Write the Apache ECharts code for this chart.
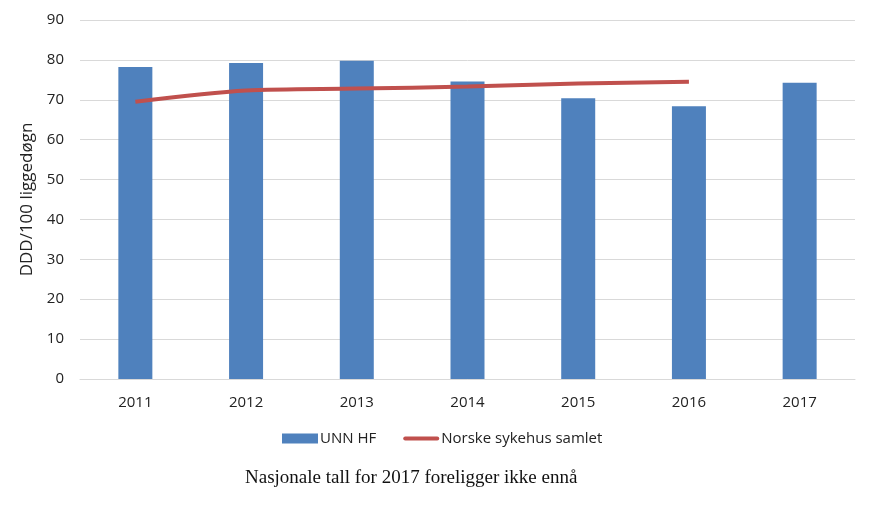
<!DOCTYPE html>
<html><head><meta charset="utf-8">
<script src="https://cdn.jsdelivr.net/npm/echarts@6/dist/echarts.min.js"></script>
<style>html,body{margin:0;padding:0;background:#fff}#c{width:892px;height:531px}</style>
</head><body><div id="c"></div>
<script>
const years = ['2011','2012','2013','2014','2015','2016','2017'];
const unnHF = [78.2, 79.2, 79.8, 74.6, 70.4, 68.4, 74.3];
const norske = [69.5, 72.3, 72.8, 73.3, 74.1, 74.5, null];
const yTicks = [0, 10, 20, 30, 40, 50, 60, 70, 80, 90];
const ff = 'Open Sans, Liberation Sans, sans-serif';
const chart = echarts.init(document.getElementById('c'));
chart.setOption({
  animation: false,
  grid: {left: 80, right: 37, top: 20, bottom: 152},
  xAxis: {
    type: 'category', data: years,
    axisLine: {lineStyle: {color: '#d9d9d9'}},
    axisTick: {show: false},
    axisLabel: {color: '#222', fontSize: 15, fontFamily: ff, margin: 16}
  },
  yAxis: {
    type: 'value', min: yTicks[0], max: yTicks[yTicks.length-1], interval: 10,
    name: 'DDD/100 liggedøgn', nameLocation: 'middle', nameGap: 41,
    nameTextStyle: {color: '#222', fontSize: 17, fontFamily: ff},
    axisLine: {show: false}, axisTick: {show: false},
    axisLabel: {color: '#222', fontSize: 15, fontFamily: ff, margin: 16},
    splitLine: {lineStyle: {color: '#d9d9d9'}}
  },
  legend: {
    bottom: 80, left: 277, itemGap: 27, itemWidth: 36, itemHeight: 10,
    textStyle: {color: '#222', fontSize: 15, fontFamily: ff, padding: [0,0,0,-3]},
    data: [{name: 'UNN HF', icon: 'rect'},
           {name: 'Norske sykehus samlet', icon: 'path://M2,0 L34,0 A2,2 0 0 1 34,4 L2,4 A2,2 0 0 1 2,0 Z'}]
  },
  graphic: [{
    type: 'text', left: 245, top: 469,
    style: {text: 'Nasjonale tall for 2017 foreligger ikke ennå', font: '19px "Liberation Serif", serif', fill: '#111'}
  }],
  series: [
    {name: 'UNN HF', type: 'bar', data: unnHF, barWidth: 34, itemStyle: {color: '#4F81BD'}},
    {name: 'Norske sykehus samlet', type: 'line', data: norske, smooth: 0.3, symbol: 'none',
     lineStyle: {color: '#C0504D', width: 4}, itemStyle: {color: '#C0504D'}}
  ]
});
</script></body></html>
